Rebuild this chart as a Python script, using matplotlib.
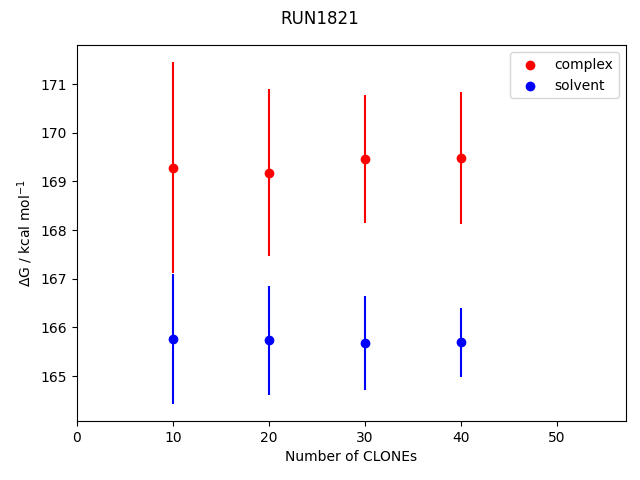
import matplotlib
matplotlib.use("Agg")
import matplotlib.pyplot as plt

n_clones = [10, 20, 30, 40]

complex_dg = [169.28, 169.18, 169.46, 169.48]
complex_err = [2.17, 1.72, 1.31, 1.35]

solvent_dg = [165.76, 165.74, 165.68, 165.70]
solvent_err = [1.33, 1.12, 0.96, 0.71]

fig, ax = plt.subplots(figsize=(6.4, 4.8), dpi=100)

ax.scatter(n_clones, complex_dg, color="red", label="complex")
ax.errorbar(n_clones, complex_dg, yerr=complex_err, fmt="none", ecolor="red")
ax.scatter(n_clones, solvent_dg, color="blue", label="solvent")
ax.errorbar(n_clones, solvent_dg, yerr=solvent_err, fmt="none", ecolor="blue")

ax.set_xlim(0, 57.2)
ax.set_xlabel("Number of CLONEs")
ax.set_ylabel(r"$\Delta$G / kcal mol$^{-1}$")
ax.legend(loc="upper right")
fig.suptitle("RUN1821")
fig.subplots_adjust(left=0.1203, right=0.978, top=0.906, bottom=0.123)
fig.savefig("out.png")
